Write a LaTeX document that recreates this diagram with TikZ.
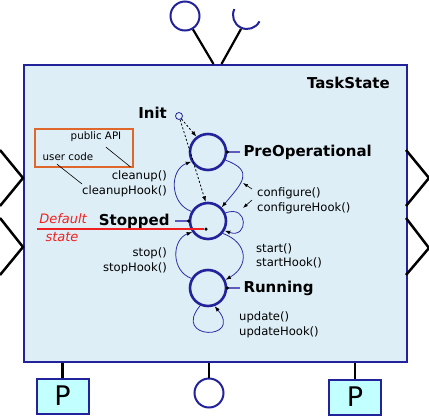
\documentclass[tikz,border=0pt]{standalone}
\usepackage{fontspec}
\setmainfont{DejaVu Sans}
\usetikzlibrary{positioning, arrows.meta, calc}

\definecolor{portblue}{HTML}{22229A}
\definecolor{flowblue}{HTML}{2E2EA6}
\definecolor{tagblue}{HTML}{5A5ABF}
\definecolor{compfill}{HTML}{DDEEF6}
\definecolor{propfill}{HTML}{C2FFFF}
\definecolor{apiorange}{HTML}{E0672A}
\definecolor{defred}{HTML}{F02020}

\begin{document}
\begin{tikzpicture}[x=1pt, y=-1pt,
			comp/.style={draw=portblue, rectangle, line width=2pt, fill=compfill, inner sep=0pt},
			statecirc/.style={draw=portblue, circle, line width=2.6pt, minimum size=36pt, inner sep=0pt},
			port/.style={draw=portblue, circle, line width=2pt, minimum size=29pt, inner sep=0pt},
			propbox/.style={draw=portblue, rectangle, line width=2pt, fill=propfill, minimum width=52pt, minimum height=35pt, inner sep=0pt, font=\fontsize{27}{27}\selectfont},
			link/.style={line width=2.2pt, black},
			trans/.style={draw=flowblue, line width=0.8pt, -{Latex[color=black, length=5.5pt, width=4pt]}},
			initarrow/.style={black, line width=0.8pt, dash pattern=on 2pt off 2pt, -{Latex[length=5.5pt, width=4pt]}},
			leader/.style={black, line width=0.6pt},
			pointer/.style={black, line width=0.6pt, -{Latex[length=5pt, width=3.5pt]}},
			statename/.style={font=\fontsize{15}{17}\selectfont\bfseries, inner sep=0pt},
			hook/.style={font=\fontsize{11.6}{14.5}\selectfont, inner sep=0pt},
			note/.style={font=\fontsize{10.3}{12}\selectfont, inner sep=0pt},
			tagline/.style={draw=tagblue, line width=1.6pt},
			blackdot/.style={circle, fill=black, inner sep=0pt, minimum size=3.5pt}
			]
			\useasboundingbox (0,0) rectangle (429,416);
			\node[comp, minimum width=383pt, minimum height=297pt, anchor=north west] (comp) at (23,64) {};
			\node[statename, below left=13pt and 18pt of comp.north east] (title) {TaskState};

			\node[port] (provided) at (185,16) {};
			\coordinate (req) at (247,15);
			\coordinate (reqfoot) at (241,29);
			\draw[draw=portblue, line width=2pt] ($(req)+(27:14)$) arc[start angle=27, end angle=205, radius=14];
			\draw[link] ([xshift=-2pt]comp.north) -- (provided);
			\draw[link] ([xshift=6pt]comp.north) -- (reqfoot);

			\draw[link, line width=2.5pt] (0,150) -- (23,178) -- (0,206);
			\draw[link, line width=2.5pt] (0,218) -- (23,247) -- (0,275);
			\draw[link, line width=2.5pt] (406,150) -- (429,178) -- (406,206);
			\draw[link, line width=2.5pt] (406,218) -- (429,248) -- (406,275);

			\node[propbox] (propL) at (62.5,396) {P};
			\node[port] (provB) at (209,393) {};
			\node[propbox] (propR) at (355,397) {P};
			\draw[link] (propL.north) -- (propL.north |- comp.south);
			\draw[link] (provB) -- (provB |- comp.south);
			\draw[link] (propR.north) -- (propR.north |- comp.south);

			\node[statecirc] (preop) at (208,152) {};
			\node[statecirc] (stopped) at (208,221) {};
			\node[statecirc] (running) at (208,288) {};
			\node[port, minimum size=7pt, line width=0.8pt] (init) at (179,116) {};

			\node[statename, left=8pt of init, yshift=3pt] (initlabel) {Init};
			\node[statename, right=16pt of preop] (preoplabel) {PreOperational};
			\node[statename, left=19pt of stopped] (stoppedlabel) {Stopped};
			\node[statename, right=16pt of running] (runninglabel) {Running};

			\draw[tagline] (preop.east) -- ([xshift=-3pt]preoplabel.west);
			\draw[tagline] ([xshift=5pt]stoppedlabel.east) -- (stopped.west);
			\draw[tagline] (running.east) -- ([xshift=-3pt]runninglabel.west);
			\node[blackdot] at (preop.east) {};
			\node[blackdot] at (stopped.west) {};
			\node[blackdot] at (running.east) {};

			\draw[initarrow] (init) -- (preop.127);
			\draw[initarrow] (init) -- (stopped.97);
			\draw[trans] (preop.-25) to[out=-20, in=50, looseness=1.7] (stopped.45);
			\draw[trans] (stopped.150) to[out=160, in=200, looseness=1.2] (preop.210);
			\draw[trans] (stopped.25) to[out=20, in=-20, looseness=3.6] (stopped.-30);
			\draw[trans] (stopped.-40) to[out=-20, in=30, looseness=1.5] (running.25);
			\draw[trans] (running.150) to[out=160, in=200, looseness=1.2] (stopped.215);
			\draw[trans] (running.-114) to[out=-130, in=-50, looseness=8] (running.-70);

			\node[hook, align=right, anchor=east] (cleanup) at (167,184) {cleanup()\\cleanupHook()};
			\node[hook, align=left, anchor=west] (configure) at (257,201) {configure()\\configureHook()};
			\node[hook, align=left, anchor=west] (start) at (256,256) {start()\\startHook()};
			\node[hook, align=right, anchor=east] (stop) at (167,261) {stop()\\stopHook()};
			\node[hook, align=left, anchor=west] (update) at (239,325) {update()\\updateHook()};

			\draw[pointer] ([xshift=-5pt, yshift=12pt]configure.west) -- ([xshift=-14pt, yshift=18pt]configure.west);
			\draw[pointer] ([xshift=-5pt, yshift=1pt]configure.west) -- ([xshift=-14pt, yshift=-7pt]configure.west);

			\node[draw=apiorange, line width=1.5pt, minimum width=98pt, minimum height=38pt, inner sep=0pt, anchor=north west] (apibox) at (34,128) {};
			\node[note] (pubapi) at (96,137) {public API};
			\node[note] (usercode) at (68,157) {user code};
			\draw[leader] ([xshift=10pt, yshift=-5pt]pubapi.south) -- ([xshift=6pt, yshift=4pt]cleanup.north);
			\draw[leader] ([xshift=-11pt, yshift=-3pt]usercode.south) -- (cleanup.west);

			\node[font=\fontsize{13}{15}\selectfont\itshape, text=defred, inner sep=0pt] (deflabel) at (63,219) {Default};
			\node[font=\fontsize{13}{15}\selectfont\itshape, text=defred, inner sep=0pt] (statelabel) at (62,237) {state};
			\coordinate (defstart) at (37,229);
			\node[blackdot] (defdot) at (206,229) {};
			\draw[defred, line width=1.3pt] (defstart) -- (defdot);
		\end{tikzpicture}
\end{document}
